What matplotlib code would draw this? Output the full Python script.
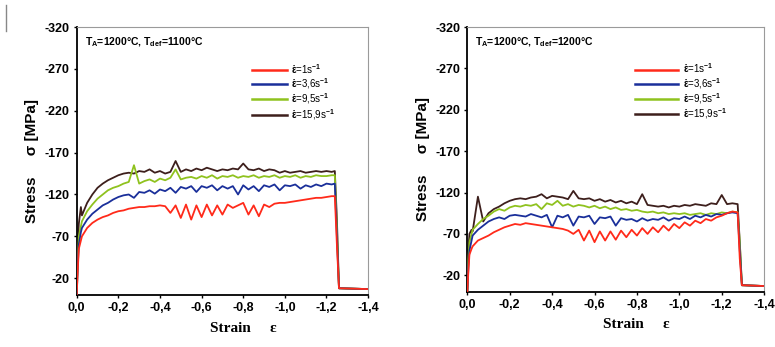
import numpy as np
import matplotlib
matplotlib.use("Agg")
import matplotlib.pyplot as plt
from matplotlib.ticker import FuncFormatter

# strain grid (absolute values), left panel T_def = 1100 C
strain_a = [0, 0.005, 0.01, 0.02, 0.025, 0.05, 0.075, 0.1, 0.125, 0.15, 0.175, 0.2, 0.225,
            0.25, 0.275, 0.3, 0.325, 0.35, 0.375, 0.4, 0.425, 0.45, 0.475, 0.5, 0.525, 0.55,
            0.575, 0.6, 0.625, 0.65, 0.675, 0.7, 0.725, 0.75, 0.775, 0.8, 0.825, 0.85, 0.875,
            0.9, 0.925, 0.95, 0.975, 1.0, 1.025, 1.05, 1.075, 1.1, 1.125, 1.15, 1.175, 1.2,
            1.225, 1.24, 1.25, 1.26, 1.4]
red_a = [0, -30, -55, -65, -70, -80, -86, -90, -93, -95, -98, -100, -101, -103, -104, -105,
         -105, -106, -106, -107, -106, -98, -107, -92, -108, -90, -107, -93, -108, -95, -107,
         -96, -108, -104, -107, -110, -96, -107, -94, -108, -105, -109, -110, -110, -111, -112,
         -113, -114, -115, -116, -116, -117, -118, -118, -60, -8, -7]
blue_a = [0, -35, -60, -75, -80, -90, -97, -102, -107, -110, -114, -117, -119, -120, -116,
          -123, -122, -125, -121, -126, -124, -128, -122, -129, -127, -130, -123, -130, -128,
          -131, -125, -130, -127, -130, -120, -131, -126, -130, -124, -131, -129, -132, -125,
          -131, -130, -132, -127, -131, -129, -132, -130, -133, -132, -133, -70, -8, -7]
green_a = [0, -40, -70, -82, -88, -100, -108, -115, -120, -125, -128, -130, -133, -135, -155,
           -133, -136, -138, -135, -139, -137, -140, -150, -138, -140, -141, -139, -142, -140,
           -143, -139, -142, -141, -143, -140, -142, -141, -143, -140, -142, -141, -143, -140,
           -142, -141, -143, -140, -142, -141, -143, -142, -142, -143, -143, -80, -8, -7]
black_a = [0, -60, -85, -105, -95, -110, -120, -128, -133, -137, -140, -143, -145, -146, -145,
           -148, -147, -150, -146, -148, -145, -147, -160, -147, -150, -148, -151, -149, -152,
           -150, -148, -150, -149, -151, -150, -157, -150, -149, -151, -148, -150, -149, -146,
           -148, -146, -147, -148, -146, -147, -148, -147, -148, -147, -148, -90, -8, -7]

# right panel T_def = 1200 C
strain_b = [0, 0.005, 0.01, 0.02, 0.025, 0.05, 0.075, 0.1, 0.125, 0.15, 0.175, 0.2, 0.225,
            0.25, 0.275, 0.3, 0.325, 0.35, 0.375, 0.4, 0.425, 0.45, 0.475, 0.5, 0.525, 0.55,
            0.575, 0.6, 0.625, 0.65, 0.675, 0.7, 0.725, 0.75, 0.775, 0.8, 0.825, 0.85, 0.875,
            0.9, 0.925, 0.95, 0.975, 1.0, 1.025, 1.05, 1.075, 1.1, 1.125, 1.15, 1.175, 1.2,
            1.225, 1.25, 1.275, 1.285, 1.295, 1.4]
red_b = [0, -25, -45, -52, -55, -62, -65, -68, -72, -75, -78, -80, -82, -81, -83, -82, -81,
         -80, -79, -78, -77, -76, -74, -70, -75, -62, -74, -60, -73, -62, -73, -63, -74, -66,
         -75, -68, -77, -70, -78, -72, -80, -74, -82, -77, -84, -80, -86, -83, -88, -86, -90,
         -92, -95, -97, -96, -40, -8, -7]
blue_b = [0, -30, -50, -62, -68, -75, -80, -85, -88, -90, -88, -92, -93, -92, -91, -94, -92,
          -90, -93, -78, -92, -90, -93, -80, -91, -90, -92, -82, -90, -89, -91, -80, -89, -87,
          -88, -85, -89, -86, -88, -87, -90, -86, -89, -88, -91, -88, -92, -90, -93, -91, -94,
          -93, -95, -96, -95, -50, -8, -7]
green_b = [0, -40, -60, -70, -75, -82, -88, -92, -97, -100, -98, -102, -104, -103, -105, -104,
           -106, -100, -107, -105, -110, -104, -106, -103, -105, -104, -102, -104, -101, -103,
           -100, -102, -99, -100, -98, -99, -97, -96, -97, -95, -96, -94, -95, -94, -95, -93,
           -94, -95, -93, -95, -94, -96, -95, -97, -96, -60, -8, -7]
black_b = [0, -50, -70, -75, -73, -115, -85, -95, -100, -103, -107, -110, -112, -113, -112,
           -114, -115, -118, -113, -116, -115, -114, -112, -122, -113, -112, -113, -110, -112,
           -109, -111, -108, -110, -107, -109, -106, -118, -105, -104, -103, -104, -102, -104,
           -103, -105, -104, -106, -105, -104, -107, -106, -117, -106, -107, -106, -60, -8, -7]

labels = [r"$\dot{\varepsilon}$=1s$^{-1}$", r"$\dot{\varepsilon}$=3,6s$^{-1}$",
          r"$\dot{\varepsilon}$=9,5s$^{-1}$", r"$\dot{\varepsilon}$=15,9s$^{-1}$"]
colors = ["#ff2a1a", "#1a2f9a", "#8fc21e", "#3d1f1c"]
titles = [r"T$_A$=1200°C, T$_{def}$=1100°C", r"T$_A$=1200°C, T$_{def}$=1200°C"]

plt.rcParams["font.family"] = ["Liberation Sans", "DejaVu Sans"]
plt.rcParams["axes.unicode_minus"] = False
plt.rcParams["mathtext.fontset"] = "custom"
plt.rcParams["mathtext.rm"] = "Liberation Sans:bold"
plt.rcParams["mathtext.it"] = "Liberation Sans:bold"
plt.rcParams["mathtext.bf"] = "Liberation Sans:bold"

fig = plt.figure(figsize=(7.75, 3.47), dpi=100)
ax1 = fig.add_axes([0.099, 0.150, 0.376, 0.772])
ax2 = fig.add_axes([0.603, 0.159, 0.383, 0.763])

fmt = FuncFormatter(lambda v, p: f"{v:.1f}".replace(".", ",") if abs(v) > 1e-9 else "0,0")

panels = [
    (ax1, strain_a, [red_a, blue_a, green_a, black_a], titles[0], 0.600, 3.6),
    (ax2, strain_b, [red_b, blue_b, green_b, black_b], titles[1], 0.565, 4.4),
]

for ax, strain, series, title, lx, hl in panels:
    x = -np.array(strain)
    handles = []
    for i in [3, 2, 1, 0]:
        h, = ax.plot(x, series[i], color=colors[i], lw=1.3, zorder=2 + (3 - i))
        handles.append(h)
    handles = handles[::-1]

    ax.set_xlim(0, -1.4)
    ax.set_ylim(0, -320)
    ax.set_xticks([0, -0.2, -0.4, -0.6, -0.8, -1.0, -1.2, -1.4])
    ax.set_yticks([-20, -70, -120, -170, -220, -270, -320])
    ax.xaxis.set_major_formatter(fmt)
    ax.tick_params(direction="out", length=2, width=1, labelsize=9, pad=3)
    for lab in ax.get_xticklabels() + ax.get_yticklabels():
        lab.set_fontweight("bold")

    ax.spines["left"].set_color("black")
    ax.spines["bottom"].set_color("black")
    ax.spines["left"].set_linewidth(1.3)
    ax.spines["bottom"].set_linewidth(1.3)
    ax.spines["top"].set_color("#9a9a9a")
    ax.spines["right"].set_color("#9a9a9a")

    ax.set_xlabel("Strain     ε", fontsize=11, fontweight="bold",
                  family=["Liberation Serif", "DejaVu Serif"], labelpad=2)
    ax.xaxis.set_label_coords(0.57, -0.10)
    ax.set_ylabel("Stress     σ [MPa]", fontsize=11, fontweight="bold", labelpad=4)

    ax.text(0.027, 0.944, title, transform=ax.transAxes, fontsize=7.5,
            fontweight="bold", va="center", ha="left")

    leg = ax.legend(handles, labels, loc="upper left", bbox_to_anchor=(lx, 0.87),
                    frameon=False, fontsize=7, handlelength=hl, handletextpad=0.5,
                    labelspacing=0.05, borderpad=0, borderaxespad=0)
    for lh in leg.get_lines():
        lh.set_linewidth(1.8)

fig.add_artist(plt.Line2D([0.008, 0.008], [0.91, 0.985], transform=fig.transFigure,
                          color="#888888", lw=1))

fig.savefig("out.png", dpi=100, facecolor="white")
